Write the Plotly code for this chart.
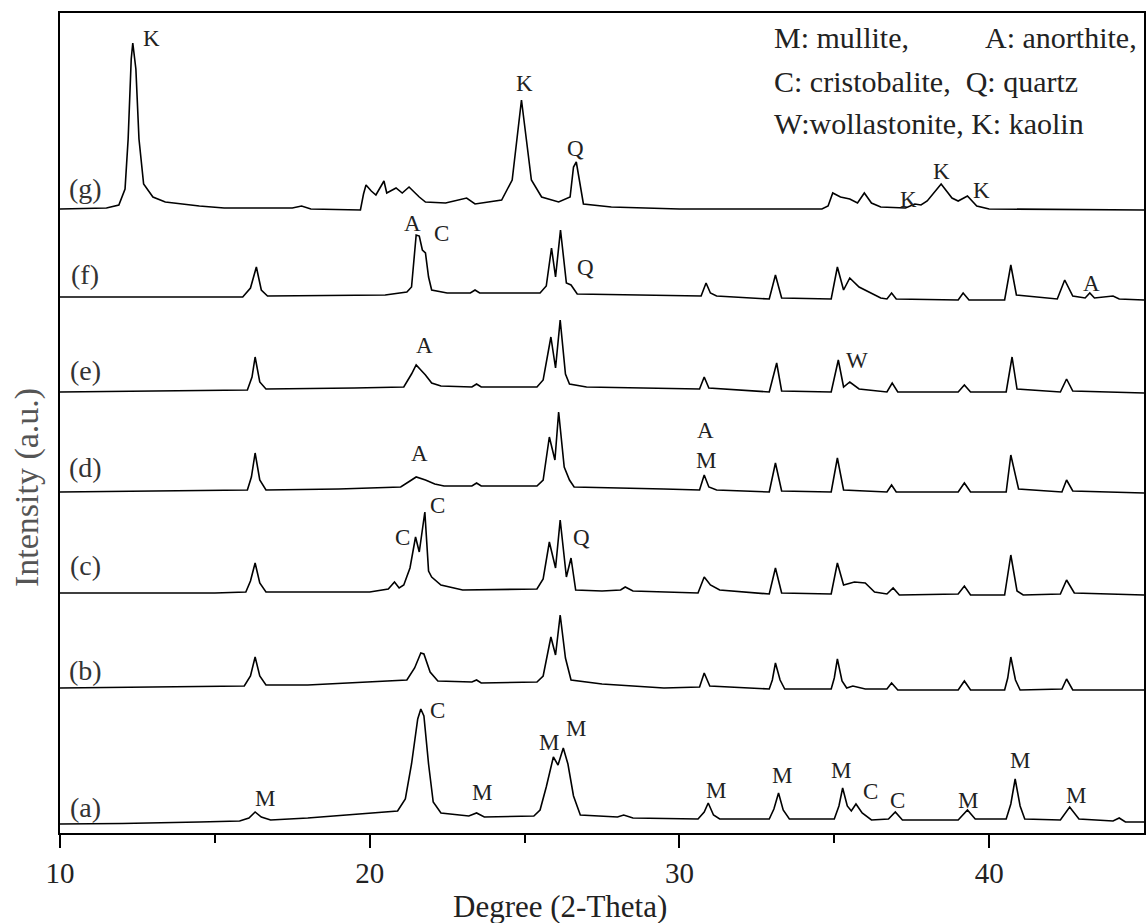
import plotly.graph_objects as go

# 2-theta vertices and intensities (a.u., relative to each pattern's own baseline)
x_a = [10.0, 12.0, 14.5, 15.8, 16.1, 16.3, 16.5, 16.8, 18.0, 20.0, 20.9, 21.15, 21.35, 21.55, 21.65, 21.75, 21.9, 22.05, 22.3, 23.2, 23.45, 23.7, 25.3, 25.5, 25.7, 25.93, 26.08, 26.25, 26.4, 26.58, 26.8, 28.0, 28.2, 28.5, 30.6, 30.8, 30.93, 31.1, 31.3, 32.9, 33.05, 33.2, 33.35, 33.55, 35.0, 35.15, 35.27, 35.42, 35.55, 35.7, 35.9, 36.2, 36.75, 36.97, 37.2, 39.0, 39.3, 39.55, 40.55, 40.7, 40.84, 41.0, 41.15, 42.3, 42.6, 42.9, 44.0, 44.2, 44.4, 45.0]
y_a = [0, 0.5, 2, 3, 6, 12, 7, 4, 6, 11, 13, 25, 60, 105, 115, 108, 60, 22, 11, 8, 11, 7, 8, 14, 37, 67, 59, 76, 60, 28, 9, 7, 9, 6, 5, 12, 21, 9, 5, 5, 15, 31, 14, 5, 5, 18, 36, 18, 13, 20, 11, 4, 5, 12, 4, 4, 14, 5, 5, 20, 45, 18, 5, 4, 17, 5, 3, 6, 2, 2]

x_b = [10.0, 14.0, 15.95, 16.15, 16.3, 16.45, 16.65, 18.0, 20.0, 21.2, 21.45, 21.65, 21.75, 21.95, 22.2, 23.3, 23.45, 23.6, 25.4, 25.6, 25.85, 26.0, 26.15, 26.32, 26.5, 27.5, 29.5, 30.65, 30.8, 30.98, 32.9, 33.0, 33.1, 33.25, 33.4, 34.9, 35.0, 35.1, 35.25, 35.4, 35.6, 36.0, 36.7, 36.85, 37.05, 39.0, 39.2, 39.4, 40.5, 40.6, 40.7, 40.85, 41.0, 42.35, 42.5, 42.7, 45.0]
y_b = [0, 1, 2, 12, 31, 12, 3, 3, 6, 8, 20, 35, 34, 16, 7, 6, 8, 5, 6, 12, 51, 33, 73, 30, 8, 4, 0, 1, 15, 2, -1, 8, 25, 8, -1, -1, 10, 29, 7, 0, 2, -1, -1, 5, -2, -2, 7, -2, -2, 10, 31, 8, -2, -1, 9, -2, -2]

x_c = [10.0, 15.0, 16.0, 16.15, 16.3, 16.45, 16.65, 18.5, 20.0, 20.6, 20.8, 20.95, 21.1, 21.3, 21.48, 21.6, 21.78, 21.9, 22.0, 22.3, 23.0, 25.4, 25.6, 25.8, 26.0, 26.15, 26.35, 26.5, 26.65, 27.5, 28.1, 28.25, 28.5, 30.6, 30.8, 31.0, 31.3, 32.9, 33.1, 33.3, 34.9, 35.1, 35.3, 35.65, 36.0, 36.3, 36.7, 36.9, 37.1, 39.0, 39.2, 39.4, 40.5, 40.7, 40.9, 41.1, 42.3, 42.5, 42.75, 45.0]
y_c = [0, 0, 1, 12, 30, 10, 1, 1, 1, 4, 11, 5, 8, 25, 56, 41, 81, 22, 16, 8, 3, 4, 14, 51, 25, 73, 16, 35, 3, 2, 3, 6, 2, 0, 16, 8, 3, -1, 25, 0, -1, 30, 8, 11, 10, 1, -1, 5, -2, -1, 7, -2, -2, 38, 2, -2, -1, 13, 0, -2]

x_d = [10.0, 14.0, 16.05, 16.18, 16.3, 16.45, 16.65, 19.0, 21.0, 21.3, 21.5, 21.8, 22.1, 22.4, 23.3, 23.45, 23.6, 25.4, 25.6, 25.8, 25.98, 26.1, 26.28, 26.45, 26.6, 29.5, 30.65, 30.8, 30.95, 31.2, 32.9, 33.1, 33.3, 34.9, 35.1, 35.3, 36.7, 36.85, 37.0, 39.0, 39.2, 39.4, 40.55, 40.7, 40.8, 40.95, 42.35, 42.5, 42.7, 45.0]
y_d = [0, 1, 2, 15, 39, 12, 2, 3, 5, 11, 15, 12, 8, 6, 6, 9, 6, 6, 12, 55, 32, 80, 25, 12, 5, 3, 2, 17, 5, 2, 0, 29, 1, 0, 34, 2, 0, 7, 0, 0, 9, 0, 0, 37, 24, 3, 0, 12, 1, -1]

x_e = [10.0, 14.5, 16.05, 16.2, 16.3, 16.45, 16.65, 19.5, 21.1, 21.35, 21.5, 21.65, 21.8, 22.0, 22.3, 23.3, 23.45, 23.6, 25.4, 25.6, 25.85, 26.0, 26.15, 26.32, 26.45, 27.0, 30.65, 30.8, 30.95, 32.9, 33.14, 33.3, 34.9, 35.13, 35.3, 35.5, 35.8, 36.7, 36.87, 37.05, 39.0, 39.2, 39.4, 40.55, 40.74, 40.9, 42.3, 42.5, 42.7, 45.0]
y_e = [0, 1, 2, 15, 35, 10, 3, 4, 5, 18, 27, 22, 17, 9, 6, 5, 8, 5, 5, 12, 55, 24, 72, 18, 8, 5, 3, 15, 4, 0, 29, 1, 0, 32, 5, 10, 3, 0, 9, 0, 0, 7, 0, 0, 35, 3, 0, 13, 1, -1]

x_f = [10.0, 15.9, 16.15, 16.34, 16.5, 16.7, 20.5, 21.2, 21.35, 21.45, 21.5, 21.6, 21.7, 21.8, 21.9, 22.0, 22.5, 23.25, 23.4, 23.55, 25.5, 25.7, 25.87, 26.0, 26.16, 26.35, 26.5, 26.7, 30.7, 30.86, 31.0, 31.2, 32.9, 33.1, 33.3, 34.9, 35.1, 35.3, 35.5, 35.8, 36.2, 36.5, 36.7, 36.85, 37.0, 39.0, 39.16, 39.35, 40.5, 40.7, 40.88, 42.2, 42.44, 42.7, 43.1, 43.25, 43.4, 44.0, 44.2, 45.0]
y_f = [1, 1, 10, 31, 8, 2, 3, 6, 11, 45, 63, 62, 48, 45, 21, 8, 5, 5, 8, 5, 5, 12, 50, 21, 68, 15, 13, 4, 2, 15, 5, 2, -1, 23, 0, -1, 31, 8, 20, 11, 5, 0, -1, 5, -1, -2, 5, -2, -2, 33, 3, -1, 18, 2, 0, 5, 0, 2, -1, -2]

x_g = [10.0, 11.5, 11.9, 12.1, 12.2, 12.3, 12.35, 12.45, 12.55, 12.7, 13.0, 13.4, 14.5, 15.3, 17.5, 17.8, 18.1, 19.7, 19.8, 19.88, 20.05, 20.2, 20.46, 20.55, 20.85, 21.05, 21.27, 21.6, 21.8, 22.45, 23.13, 23.4, 24.26, 24.6, 24.75, 24.9, 25.06, 25.22, 25.55, 26.1, 26.47, 26.58, 26.67, 26.77, 26.9, 27.8, 28.9, 30.0, 34.6, 34.8, 34.95, 35.2, 35.5, 35.75, 35.97, 36.2, 36.5, 37.3, 37.6, 37.8, 38.0, 38.45, 38.8, 39.0, 39.3, 39.6, 40.0, 45.0]
y_g = [0, 1, 4, 20, 70, 150, 166, 140, 70, 25, 12, 7, 3, 1, 1, 3, 0, -1, 15, 24, 18, 14, 28, 16, 21, 16, 22, 12, 7, 6, 11, 5, 9, 29, 69, 109, 69, 29, 12, 7, 12, 42, 47, 29, 5, 2, 1, 0, 0, 3, 16, 12, 10, 6, 16, 6, 2, 1, 5, 4, 8, 25, 11, 8, 13, 3, 0, -1]

sample_names = ["(a)", "(b)", "(c)", "(d)", "(e)", "(f)", "(g)"]
offsets = [9, 145, 240, 341, 441, 535, 624]
name_y = [26, 163, 268, 366, 463, 559, 645]

# phase labels: (letter, 2-theta, intensity level on the stacked scale)
peak_labels = [
    ("K", 12.96, 795), ("K", 24.99, 750), ("Q", 26.66, 685), ("K", 37.39, 634), ("K", 38.46, 662), ("K", 39.75, 643),
    ("A", 21.38, 610), ("C", 22.31, 600), ("Q", 26.98, 566), ("A", 43.29, 550),
    ("A", 21.76, 488), ("W", 35.72, 473),
    ("A", 21.60, 380), ("A", 30.85, 403), ("M", 30.85, 373),
    ("C", 21.05, 296), ("C", 22.18, 328), ("Q", 26.85, 296),
    ("M", 16.61, 35), ("C", 22.18, 123), ("M", 23.63, 41), ("M", 25.79, 91), ("M", 26.66, 105),
    ("M", 31.17, 43), ("M", 33.30, 58), ("M", 35.23, 63), ("C", 36.17, 42), ("C", 37.04, 33),
    ("M", 39.33, 33), ("M", 41.00, 73), ("M", 42.81, 38),
]

key_lines = [("M: mullite,", 32.98, 796), ("A: anorthite,", 39.81, 796),
             ("C: cristobalite,  Q: quartz", 32.98, 752), ("W:wollastonite, K: kaolin", 32.98, 710)]

xs = [x_a, x_b, x_c, x_d, x_e, x_f, x_g]
ys = [y_a, y_b, y_c, y_d, y_e, y_f, y_g]

FONT = "Liberation Serif, Times New Roman, serif"
fig = go.Figure()
for name, xv, yv, off in zip(sample_names, xs, ys, offsets):
    fig.add_trace(go.Scatter(x=xv, y=[v + off for v in yv], mode="lines", name=name,
                             line=dict(color="black", width=1.6), showlegend=False, hoverinfo="skip"))

ann = []
for name, yy in zip(sample_names, name_y):
    ann.append(dict(x=10.82, y=yy, text=name, showarrow=False, font=dict(size=28, color="#333", family=FONT)))
for t, xx, yy in peak_labels:
    ann.append(dict(x=xx, y=yy, text=t, showarrow=False, font=dict(size=23, color="#222", family=FONT)))
for t, xx, yy in key_lines:
    ann.append(dict(x=xx, y=yy, text=t, showarrow=False, xanchor="left", font=dict(size=30, color="#222", family=FONT)))
ann.append(dict(xref="paper", yref="paper", x=(561 - 60) / 1086, y=-(906 - 833) / 820, text="Degree (2-Theta)",
                xanchor="center", yanchor="middle",
                showarrow=False, font=dict(size=31, color="#222", family=FONT)))
ann.append(dict(xref="paper", yref="paper", x=-(60 - 27) / 1086, y=(833 - 488) / 820, text="Intensity (a.u.)",
                xanchor="center", yanchor="middle",
                textangle=-90, showarrow=False, font=dict(size=34, color="#555", family=FONT)))

fig.update_layout(
    width=1148, height=923, margin=dict(l=60, r=2, t=13, b=90),
    paper_bgcolor="white", plot_bgcolor="white",
    annotations=ann,
    xaxis=dict(range=[10, 45], tickvals=[10, 20, 30, 40], ticks="outside", ticklen=13, tickwidth=2,
               tickcolor="black", showline=True, linecolor="black", linewidth=2, mirror=True,
               showgrid=False, zeroline=False, tickfont=dict(size=29, color="#222", family=FONT),
               minor=dict(tickvals=[15, 25, 35], ticks="outside", ticklen=8, tickwidth=2, tickcolor="black")),
    yaxis=dict(range=[0, 820], showticklabels=False, ticks="", showline=True, linecolor="black",
               linewidth=2, mirror=True, showgrid=False, zeroline=False),
)
fig.write_html("out.html", config={"displayModeBar": False},
               post_script="document.body.style.margin='0px';")
